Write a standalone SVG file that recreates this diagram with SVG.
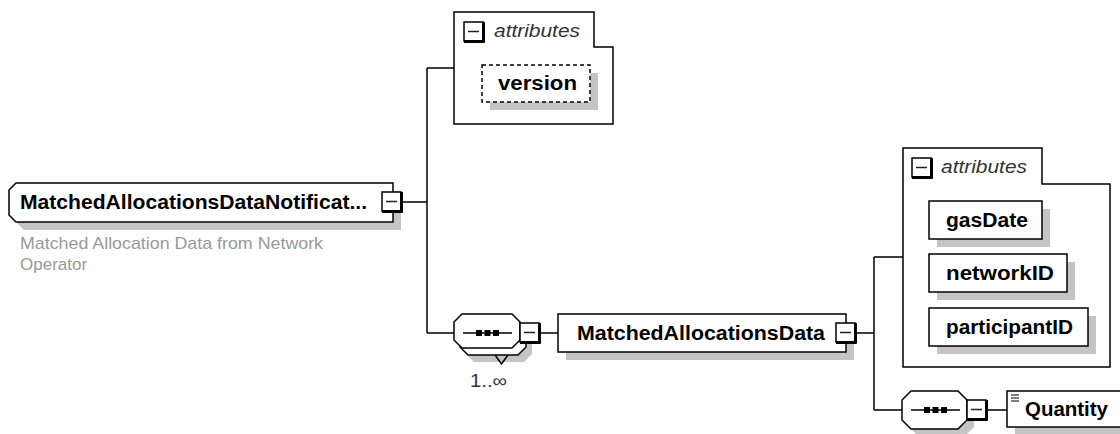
<svg xmlns="http://www.w3.org/2000/svg" xmlns:xlink="http://www.w3.org/1999/xlink" width="1120" height="434" viewBox="0 0 1120 434">
<style>
.ln{fill:none;stroke:#000;stroke-width:1.5}
.box{fill:#fff;stroke:#000;stroke-width:1.5}
.dash{fill:#fff;stroke:#000;stroke-width:1.5;stroke-dasharray:4 3}
.sh{fill:#c4c4c4;stroke:none}
.name{font-family:"Liberation Sans",Arial,sans-serif;font-weight:bold;font-size:20px;fill:#000}
.attr{font-family:"Liberation Sans",Arial,sans-serif;font-style:italic;font-size:18px;fill:#333}
.desc{font-family:"Liberation Sans",Arial,sans-serif;font-size:17px;fill:#999}
.occ{font-family:"Liberation Sans",Arial,sans-serif;font-size:18px;fill:#333355}
</style>
<defs>
<g id="minus">
<rect x="0" y="0" width="19" height="19" fill="#fff" stroke="#000" stroke-width="1.5"/>
<path d="M19.5,0 V20.5 M0,19.5 H20.5" stroke="#000" stroke-width="3" fill="none"/>
<path d="M4,9.5 H15" stroke="#222" stroke-width="1.5" fill="none"/>
</g>
<g id="dots">
<path d="M0,0 H49" stroke="#000" stroke-width="1.5" fill="none"/>
<rect x="13" y="-3" width="6" height="6" fill="#000"/>
<rect x="21.5" y="-3" width="6" height="6" fill="#000"/>
<rect x="30" y="-3" width="6" height="6" fill="#000"/>
</g>
</defs>

<g id="connectors">
<path class="ln" d="M403,202 H427 M427,68 V333 M427,68 H454 M427,333 H454 M540,333 H558 M857,333 H874 M874,257 V410 M874,257 H903 M874,410 H902 M988,410 H1007"/>
</g>

<g id="root">
<path class="sh" d="M24,191 H401 V230 H24 L17,223 V198 Z"/>
<path class="box" d="M16,183 H393 V222 H16 L9,215 V190 Z"/>
<text class="name" x="20" y="209" textLength="347" lengthAdjust="spacingAndGlyphs">MatchedAllocationsDataNotificat...</text>
<use xlink:href="#minus" x="382" y="192"/>
<text class="desc" x="20" y="249" textLength="303" lengthAdjust="spacingAndGlyphs">Matched Allocation Data from Network</text>
<text class="desc" x="20" y="270">Operator</text>
</g>

<g id="attributes1">
<path class="box" d="M454,12 H594 V47 H613 V124 H454 Z"/>
<use xlink:href="#minus" x="464" y="22"/>
<text class="attr" x="494" y="37" textLength="86" lengthAdjust="spacingAndGlyphs">attributes</text>
</g>

<g id="version">
<rect class="sh" x="490" y="73" width="108" height="37"/>
<rect class="dash" x="482" y="65" width="108" height="37"/>
<text class="name" x="498" y="90" textLength="79" lengthAdjust="spacingAndGlyphs">version</text>
</g>

<g id="sequence1">
<path class="sh" d="M474,328 H524 L532,336 V354 L524,362 H474 L466,354 V336 Z"/>
<path class="box" d="M468,321 H518 L526,329 V347 L518,355 H468 L460,347 V329 Z"/>
<path class="ln" d="M495,355 L501.5,364 L508,355"/>
<path class="box" d="M462,314 H512 L520,322 V340 L512,348 H462 L454,340 V322 Z"/>
<use xlink:href="#dots" x="463" y="333"/>
<use xlink:href="#minus" x="520" y="323"/>
<text class="occ" x="470" y="387" textLength="37" lengthAdjust="spacingAndGlyphs">1..∞</text>
</g>

<g id="MatchedAllocationsData">
<rect class="sh" x="566" y="322" width="288" height="38"/>
<rect class="box" x="558" y="314" width="288" height="38"/>
<text class="name" x="577" y="340" textLength="248" lengthAdjust="spacingAndGlyphs">MatchedAllocationsData</text>
<use xlink:href="#minus" x="836" y="323"/>
</g>

<g id="attributes2">
<path class="box" d="M903,148 H1042 V184 H1110 V367 H903 Z"/>
<use xlink:href="#minus" x="912" y="158"/>
<text class="attr" x="941" y="173" textLength="86" lengthAdjust="spacingAndGlyphs">attributes</text>
</g>

<g id="gasDate">
<rect class="sh" x="937" y="209" width="113" height="38"/>
<rect class="box" x="929" y="201" width="113" height="38"/>
<text class="name" x="946" y="227" textLength="82" lengthAdjust="spacingAndGlyphs">gasDate</text>
</g>

<g id="networkID">
<rect class="sh" x="937" y="262" width="138" height="38"/>
<rect class="box" x="929" y="254" width="138" height="38"/>
<text class="name" x="946" y="280" textLength="108" lengthAdjust="spacingAndGlyphs">networkID</text>
</g>

<g id="participantID">
<rect class="sh" x="937" y="316" width="159" height="38"/>
<rect class="box" x="929" y="308" width="159" height="38"/>
<text class="name" x="946" y="334" textLength="127" lengthAdjust="spacingAndGlyphs">participantID</text>
</g>

<g id="sequence2">
<path class="sh" d="M918,398 H965 L974,407 V427 L965,436 H918 L909,427 V407 Z"/>
<path class="box" d="M911,391 H958 L967,400 V420 L958,429 H911 L902,420 V400 Z"/>
<use xlink:href="#dots" x="911" y="410"/>
<use xlink:href="#minus" x="967" y="400"/>
</g>

<g id="Quantity">
<rect class="sh" x="1015" y="399" width="120" height="37"/>
<rect class="box" x="1007" y="391" width="120" height="36"/>
<path d="M1011,395 H1019 M1011,398 H1019 M1011,401 H1019" stroke="#000" stroke-width="1.2" fill="none"/>
<text class="name" x="1025" y="416" textLength="83" lengthAdjust="spacingAndGlyphs">Quantity</text>
</g>
</svg>
